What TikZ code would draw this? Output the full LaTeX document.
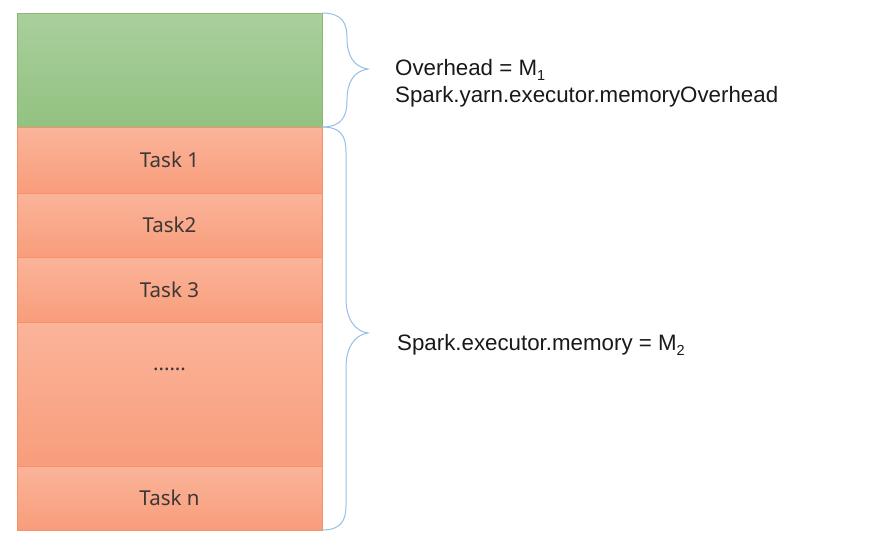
\documentclass[tikz,border=0pt]{standalone}
\usepackage{fontspec}
\setmainfont{Liberation Sans}
\newfontfamily\taskfont{Noto Sans}
\definecolor{gtop}{RGB}{170,207,157}
\definecolor{gbot}{RGB}{146,194,128}
\definecolor{gline}{RGB}{135,185,115}
\definecolor{otop}{RGB}{250,180,154}
\definecolor{obot}{RGB}{249,157,123}
\definecolor{oline}{RGB}{244,145,105}
\definecolor{bracec}{RGB}{150,190,230}
\definecolor{tasktext}{RGB}{60,55,55}
\newcommand{\subsc}[1]{\raisebox{-0.45ex}{\fontsize{14.5}{14.5}\selectfont #1}}
\begin{document}
\begin{tikzpicture}[x=1pt,y=-1pt,
  cellbox/.style={anchor=north west,minimum width=305pt,inner sep=0pt,outer sep=0pt,
    draw=oline,line width=0.9pt,top color=otop,bottom color=obot},
  greenbox/.style={anchor=north west,minimum width=305pt,inner sep=0pt,outer sep=0pt,
    draw=gline,line width=0.9pt,top color=gtop,bottom color=gbot},
  tasklabel/.style={font=\taskfont\fontsize{20.5}{23}\selectfont,text=tasktext},
  infotext/.style={font=\fontsize{22.3}{27}\selectfont,text=black!90,anchor=base west,inner sep=0pt},
  bracel/.style={draw=bracec,line width=1pt}
]
\useasboundingbox (0,0) rectangle (887,544);
\node[greenbox,minimum height=114pt] (ovh) at (17,13) {};
\node[cellbox,minimum height=66pt] (t1) at (17,127) {};
\node[cellbox,minimum height=64pt] (t2) at (17,193) {};
\node[cellbox,minimum height=65pt] (t3) at (17,257) {};
\node[cellbox,minimum height=144pt] (tdots) at (17,322) {};
\node[cellbox,minimum height=64pt] (tn) at (17,466) {};
\node[tasklabel] (l1) at (t1.center) {Task 1};
\node[tasklabel] (l2) at (t2.center) {Task2};
\node[tasklabel] (l3) at (t3.center) {Task 3};
\node[tasklabel,anchor=base] (ld) at (169.5,370) {......};
\node[tasklabel] (ln) at (tn.center) {Task n};
% braces
\coordinate (b1top) at (322,13);
\coordinate (b1tip) at (368,69);
\coordinate (b1bot) at (322,127);
\coordinate (b2top) at (322,127);
\coordinate (b2tip) at (368,333);
\coordinate (b2bot) at (322,530);
\draw[bracel] (b1top) .. controls (343,13) and (347,24) .. (347,38)
  .. controls (347,56) and (354,67) .. (b1tip)
  .. controls (354,71) and (347,82) .. (347,100)
  .. controls (347,115) and (343,127) .. (b1bot);
\draw[bracel] (b2top) .. controls (341,127) and (346,136) .. (346,152) -- (346,298)
  .. controls (346,318) and (354,331) .. (b2tip)
  .. controls (354,335) and (346,348) .. (346,368) -- (346,505)
  .. controls (346,521) and (341,530) .. (b2bot);
\node[infotext] (txt1) at (395,75.5) {Overhead = M\subsc{1}};
\node[infotext] (txt2) at (395,102.5) {Spark.yarn.executor.memoryOverhead};
\node[infotext] (txt3) at (397,350) {Spark.executor.memory = M\subsc{2}};
\end{tikzpicture}
\end{document}
